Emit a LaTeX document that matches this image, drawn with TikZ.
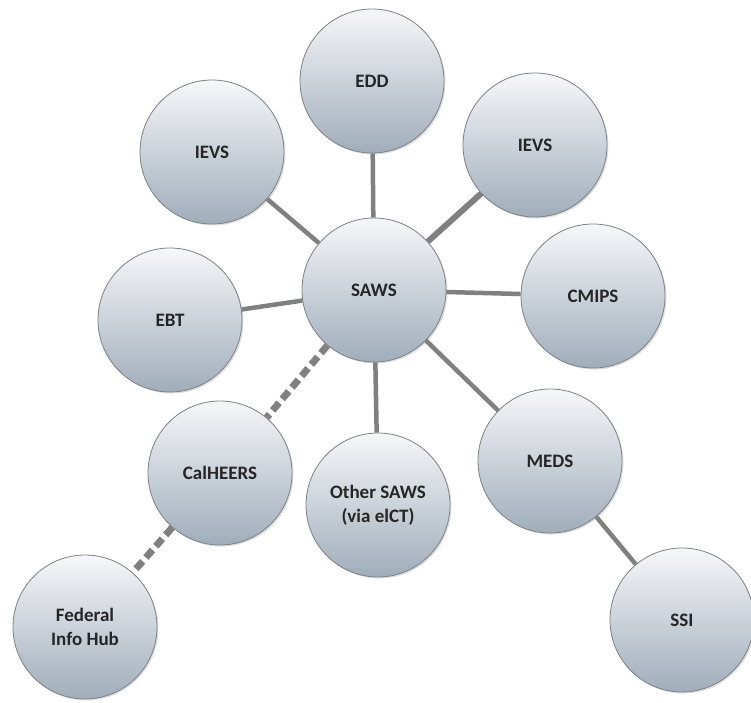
\documentclass[tikz,border=0pt]{standalone}
\usepackage{fontspec}
\setmainfont{Carlito}
\usetikzlibrary{shadows}

\begin{document}
\begin{tikzpicture}[x=1pt, y=-1pt,
        bubble/.style={circle, minimum size=144pt, inner sep=0pt, draw=bordercolor, line width=0.8pt,
            top color=bubbletop, bottom color=bubblebottom, align=center,
            font=\fontsize{19}{24}\selectfont\bfseries, text=textcolor,
            drop shadow={opacity=0.25, shadow xshift=1.5pt, shadow yshift=-1.5pt}},
        link/.style={draw=linkcolor, line width=4.5pt},
        dashlink/.style={draw=linkcolor, line width=7pt, dash pattern=on 10pt off 5pt}]
        % Define colors
        \definecolor{bubbletop}{RGB}{246,247,249}
        \definecolor{bubblebottom}{RGB}{160,173,186}
        \definecolor{bordercolor}{RGB}{125,128,132}
        \definecolor{linkcolor}{RGB}{128,128,128}
        \definecolor{textcolor}{RGB}{38,38,38}
        
        % Page size
        \useasboundingbox (0,0) rectangle (751,702);
        
        % Systems
        \node[bubble] (saws) at (374,290) {SAWS};
        \node[bubble] (edd) at (372,81) {EDD};
        \node[bubble] (ievsleft) at (212,152) {IEVS};
        \node[bubble] (ievsright) at (535,145) {IEVS};
        \node[bubble] (cmips) at (593,296) {CMIPS};
        \node[bubble] (ebt) at (170,320) {EBT};
        \node[bubble] (calheers) at (220,473) {CalHEERS};
        \node[bubble] (othersaws) at (378,505) {Other SAWS\\(via elCT)};
        \node[bubble] (meds) at (550,461) {MEDS};
        \node[bubble] (ssi) at (682,620) {SSI};
        \node[bubble] (fedhub) at (85,627) {Federal\\Info Hub};
        
        % Interfaces
        \draw[link] (saws) -- (edd);
        \draw[link] (saws) -- (ievsleft);
        \draw[link, line width=6pt] (saws) -- (ievsright);
        \draw[link] (saws) -- (cmips);
        \draw[link] (saws) -- (ebt);
        \draw[link] (saws) -- (othersaws);
        \draw[link] (saws) -- (meds);
        \draw[link] (meds) -- (ssi);
        
        % Planned interfaces
        \draw[dashlink] (saws) -- (calheers);
        \draw[dashlink] (calheers) -- (fedhub);
        
    \end{tikzpicture}
\end{document}
